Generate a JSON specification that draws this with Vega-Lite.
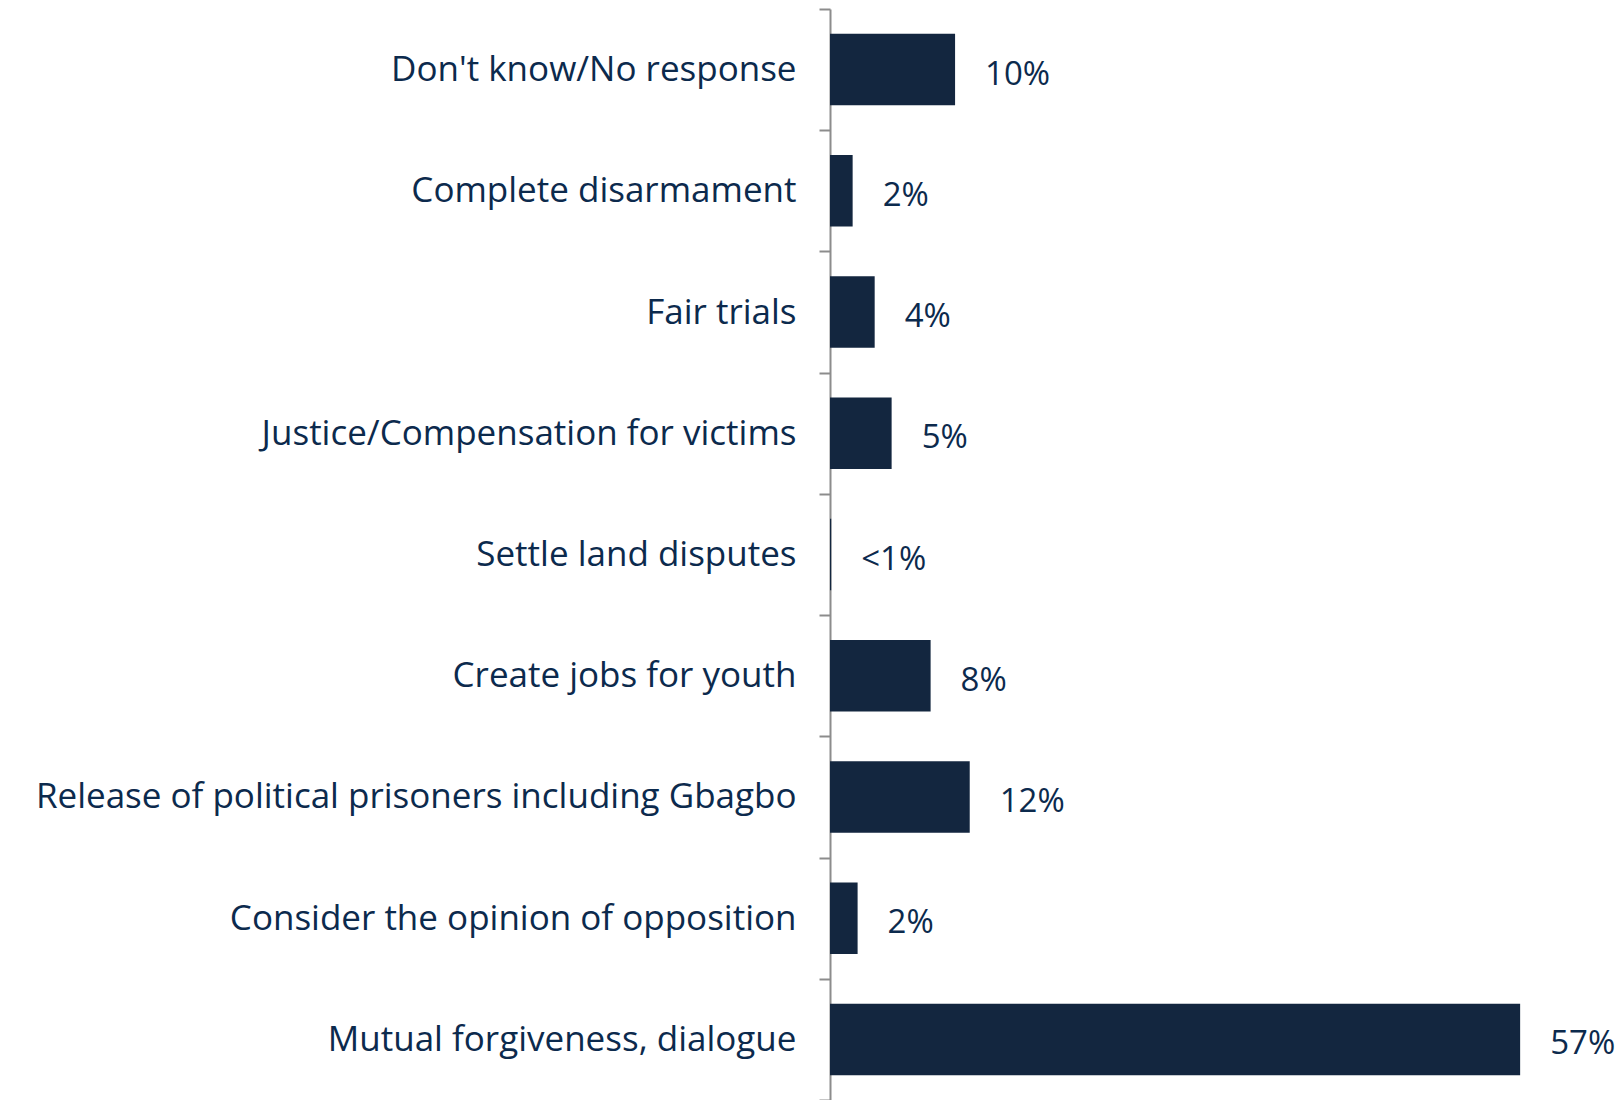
{
  "$schema": "https://vega.github.io/schema/vega-lite/v6.json",
  "autosize": {"type": "none"},
  "width": 787,
  "height": 1091,
  "padding": {"left": 830, "top": 9, "right": 0, "bottom": 0},
  "background": "white",
  "view": {"stroke": null},
  "data": {"values": [
    {"answer": "Don't know/No response", "value": 10.33, "label": "10%"},
    {"answer": "Complete disarmament ", "value": 1.87, "label": "2%"},
    {"answer": "Fair trials", "value": 3.69, "label": "4%"},
    {"answer": "Justice/Compensation for victims", "value": 5.09, "label": "5%"},
    {"answer": "Settle land disputes", "value": 0.1, "label": "<1%"},
    {"answer": "Create jobs for youth", "value": 8.31, "label": "8%"},
    {"answer": "Release of political prisoners including Gbagbo", "value": 11.54, "label": "12%"},
    {"answer": "Consider the opinion of opposition", "value": 2.28, "label": "2%"},
    {"answer": "Mutual forgiveness, dialogue", "value": 57.0, "label": "57%"}
  ]},
  "encoding": {
    "y": {
      "field": "answer", "type": "nominal", "sort": null,
      "scale": {"paddingInner": 0, "paddingOuter": 0},
      "axis": {
        "title": null, "tickBand": "extent", "domainColor": "#8c8c8c", "domainWidth": 2,
        "tickColor": "#8c8c8c", "tickWidth": 2, "tickSize": 11,
        "labelFont": "Open Sans", "labelFontSize": 35, "labelColor": "#0c2a4d",
        "labelPadding": 23, "labelLimit": 0
      }
    },
    "x": {"field": "value", "type": "quantitative", "scale": {"domain": [0, 65]}, "axis": null}
  },
  "layer": [
    {"mark": {"type": "bar", "color": "#13263f", "height": {"band": 0.59}}},
    {"mark": {"type": "text", "align": "left", "baseline": "middle", "dx": 30, "dy": 5, "font": "Open Sans", "fontSize": 33, "color": "#0c2a4d"},
     "encoding": {"text": {"field": "label"}}}
  ]
}
